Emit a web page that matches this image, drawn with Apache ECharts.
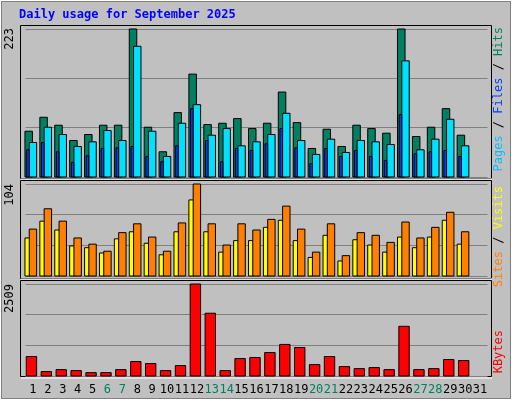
<!DOCTYPE html><html><head><meta charset="utf-8">
<script src="https://cdn.jsdelivr.net/npm/echarts@6/dist/echarts.min.js"></script>
<style>html,body{margin:0;padding:0;background:#c0c0c0}#c{width:512px;height:400px}</style></head><body><div id="c"></div>
<script>
const days = Array.from({length:31},(_,i)=>String(i+1));
const weekendDays = ['6','7','13','14','20','21','27','28'];
const hits  = [69,90,78,55,64,78,78,223,75,38,97,155,79,81,88,73,81,128,82,43,72,46,78,73,66,223,61,75,103,63,0];
const files = [52,75,64,46,53,70,55,197,69,31,81,109,63,73,47,53,64,96,55,34,57,37,55,53,49,175,41,57,87,47,0];
const pages = [41,52,38,22,32,43,44,46,31,23,47,103,55,23,43,40,50,73,44,20,43,31,40,31,25,94,35,38,40,31,0];
const sites = [43,62,52,34,32,26,42,50,37,24,50,86,50,27,40,40,55,63,40,21,46,17,41,35,27,44,32,44,63,36,0];
const visits= [53,76,62,43,36,28,49,59,44,28,60,104,59,35,59,52,64,79,53,27,59,23,49,46,38,61,43,55,72,50,0];
const kbytes= [531,119,174,147,92,92,174,394,339,147,284,2509,1712,147,476,504,641,861,778,311,531,256,201,229,174,1355,174,201,449,421,0];
const maxHits=223, maxVisits=104, maxK=2509;

const mono='DejaVu Sans Mono';
function barSeries(grid, data, color, x0, x1){
  return {type:'custom', xAxisIndex:grid, yAxisIndex:grid, data:data.map((v,i)=>[i,v]),
    renderItem:(p,api)=>{const v=api.value(1); if(!v) return null;
      const top=api.coord([api.value(0),v]), base=api.coord([api.value(0),0]);
      return {type:'rect',shape:{x:top[0]+x0,y:top[1],width:x1-x0,height:base[1]-top[1]},
        style:{fill:color,stroke:'#000',lineWidth:1}};}};
}
const grids=[{top:29,height:148},{top:184,height:92},{top:284,height:92}].map(g=>({left:25.5,width:462,...g}));
const maxes=[maxHits,maxVisits,maxK];
const option={animation:false,backgroundColor:'#c0c0c0',
 grid:grids,
 xAxis:grids.map((g,i)=>({gridIndex:i,type:'category',data:days,boundaryGap:true,show:i===2,
   axisLine:{show:false},axisTick:{show:false},splitLine:{show:false},
   axisLabel:{show:i===2,interval:0,margin:8,fontFamily:mono,fontSize:12,color:'#000',
     formatter:v=>weekendDays.includes(v)?'{w|'+v+'}':v,
     rich:{w:{color:'#008060',fontFamily:mono,fontSize:12}}}})),
 yAxis:maxes.map((m,i)=>({gridIndex:i,type:'value',min:0,max:m,interval:m/3,
   axisLine:{show:false},axisTick:{show:false},axisLabel:{show:false},
   splitLine:{lineStyle:{color:'#808080',width:1}}})),
 graphic:[
  {type:'rect',shape:{x:0.5,y:0.5,width:511,height:399},style:{fill:'none',stroke:'#fff',lineWidth:1},z:-1},
  {type:'rect',shape:{x:1.5,y:1.5,width:509,height:397},style:{fill:'none',stroke:'#808080',lineWidth:1}},
  {type:'text',left:19,top:9,style:{text:'Daily usage for September 2025',fill:'#0000ff',font:'bold 12px '+mono}},
  {type:'rect',shape:{x:20.5,y:25.5,width:471,height:153},style:{fill:'none',stroke:'#000'}},
  {type:'rect',shape:{x:20.5,y:180.5,width:471,height:98},style:{fill:'none',stroke:'#000'}},
  {type:'rect',shape:{x:20.5,y:280.5,width:471,height:96},style:{fill:'none',stroke:'#000'}},
  {type:'line',shape:{x1:21,y1:179,x2:492,y2:179},style:{stroke:'#fff'}},
  {type:'line',shape:{x1:21,y1:279,x2:492,y2:279},style:{stroke:'#fff'}},
  {type:'line',shape:{x1:21,y1:378,x2:492,y2:378},style:{stroke:'#fff'}},
  {type:'text',x:10,y:28,rotation:Math.PI/2,style:{text:String(maxHits),fill:'#000',font:'12px '+mono,align:'right',verticalAlign:'middle'}},
  {type:'text',x:10,y:184,rotation:Math.PI/2,style:{text:String(maxVisits),fill:'#000',font:'12px '+mono,align:'right',verticalAlign:'middle'}},
  {type:'text',x:10,y:284,rotation:Math.PI/2,style:{text:String(maxK),fill:'#000',font:'12px '+mono,align:'right',verticalAlign:'middle'}},
  {type:'text',x:499,y:27,rotation:Math.PI/2,style:{text:'{p|Pages} / {f|Files} / {h|Hits}',font:'12px '+mono,fill:'#000',align:'right',verticalAlign:'middle',
    rich:{p:{fill:'#00c0ff',font:'12px '+mono},f:{fill:'#0040ff',font:'12px '+mono},h:{fill:'#008060',font:'12px '+mono}}}},
  {type:'text',x:499,y:186,rotation:Math.PI/2,style:{text:'{s|Sites} / {v|Visits}',font:'12px '+mono,fill:'#000',align:'right',verticalAlign:'middle',
    rich:{s:{fill:'#ff8000',font:'12px '+mono},v:{fill:'#ffff00',font:'12px '+mono}}}},
  {type:'text',x:499,y:330,rotation:Math.PI/2,style:{text:'KBytes',font:'12px '+mono,fill:'#ff0000',align:'right',verticalAlign:'middle'}}
 ],
 series:[
  barSeries(0,hits,'#008060',-8,-0.5),
  barSeries(0,files,'#00e0ff',-3.7,3.7),
  barSeries(0,pages,'#0040ff',-6.3,-3.8),
  barSeries(1,sites,'#ffff00',-8,-3.3),
  barSeries(1,visits,'#ff8000',-3.7,3.7),
  barSeries(2,kbytes,'#ff0000',-6.7,3.7)
 ]};
echarts.init(document.getElementById('c')).setOption(option);
</script></body></html>
